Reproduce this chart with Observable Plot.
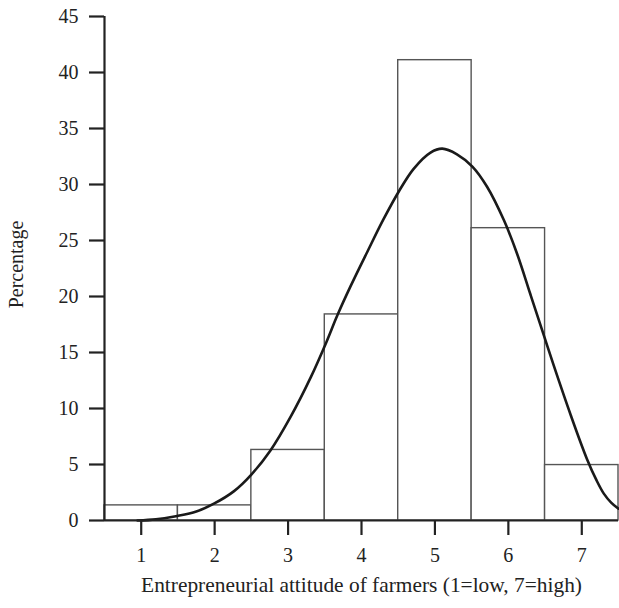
<!DOCTYPE html>
<html>
<head>
<meta charset="utf-8">
<script src="https://cdn.jsdelivr.net/npm/d3@7"></script>
<script src="https://cdn.jsdelivr.net/npm/@observablehq/plot@0.6"></script>
<style>
  html, body { margin: 0; padding: 0; background: #fff; }
  #chart svg { display: block; }
</style>
</head>
<body>
<div id="chart"></div>
<script>
// Histogram categories and percentages
const scores = [1, 2, 3, 4, 5, 6, 7];
const percentages = [1.35, 1.35, 6.3, 18.4, 41.1, 26.1, 4.95];

// Fitted normal curve
const curveX = [0.95, 1.2, 1.49, 1.75, 1.99, 2.26, 2.5, 2.76, 3.03, 3.31, 3.52, 3.67, 3.85, 4.08, 4.3, 4.51, 4.71, 4.94, 5.1, 5.3, 5.51, 5.71, 5.94, 6.12, 6.3, 6.47, 6.62, 6.85, 7.07, 7.2, 7.3, 7.4, 7.5];
const curveY = [0.0, 0.1, 0.4, 0.8, 1.5, 2.6, 4.1, 6.25, 9.2, 12.8, 15.9, 18.3, 20.9, 24.0, 26.9, 29.4, 31.4, 32.85, 33.2, 32.7, 31.6, 29.8, 26.8, 23.8, 20.2, 16.8, 13.8, 9.4, 5.5, 3.6, 2.4, 1.6, 1.05];

// Axis ticks
const yTicks = [0, 5, 10, 15, 20, 25, 30, 35, 40, 45];
const xTicks = [1, 2, 3, 4, 5, 6, 7];
const xLabel = "Entrepreneurial attitude of farmers (1=low, 7=high)";
const yLabel = "Percentage";

const bars = scores.map((s, i) => ({x1: s - 0.5, x2: s + 0.5, y: percentages[i]}));
const curve = curveX.map((x, i) => ({x, y: curveY[i]}));

const font = "'Liberation Serif', 'Times New Roman', serif";

const chart = Plot.plot({
  width: 619,
  height: 608,
  marginLeft: 104,
  marginRight: 1,
  marginTop: 16,
  marginBottom: 88,
  style: {fontFamily: font, fontSize: "20px", color: "#222", background: "#fff"},
  x: {domain: [0.5, 7.5], label: null},
  y: {domain: [0, 45], label: null},
  marks: [
    Plot.rectY(bars, {x1: "x1", x2: "x2", y1: 0, y2: "y", fill: "white", stroke: "#555", strokeWidth: 1.4}),
    Plot.line(curve, {x: "x", y: "y", stroke: "#1a1a1a", strokeWidth: 2.6, curve: "catmull-rom"}),
    Plot.ruleX([0.5], {y1: 0, y2: 45, stroke: "#222", strokeWidth: 2.2}),
    Plot.ruleY([0], {stroke: "#222", strokeWidth: 2.2}),
    Plot.axisY(yTicks, {tickSize: 15, tickPadding: 11, stroke: "#222", strokeWidth: 2.2, fill: "#222", label: null, fontSize: 20}),
    Plot.axisX(xTicks, {tickSize: 15, tickPadding: 12, stroke: "#222", strokeWidth: 2.2, fill: "#222", label: null, fontSize: 20}),
    Plot.text([xLabel], {frameAnchor: "bottom", dy: 71, fill: "#222", fontSize: 21.4}),
    Plot.text([yLabel], {frameAnchor: "left", textAnchor: "middle", dx: -88, dy: -4, rotate: -90, fill: "#222", fontSize: 20})
  ]
});

document.getElementById("chart").appendChild(chart);
</script>
</body>
</html>
